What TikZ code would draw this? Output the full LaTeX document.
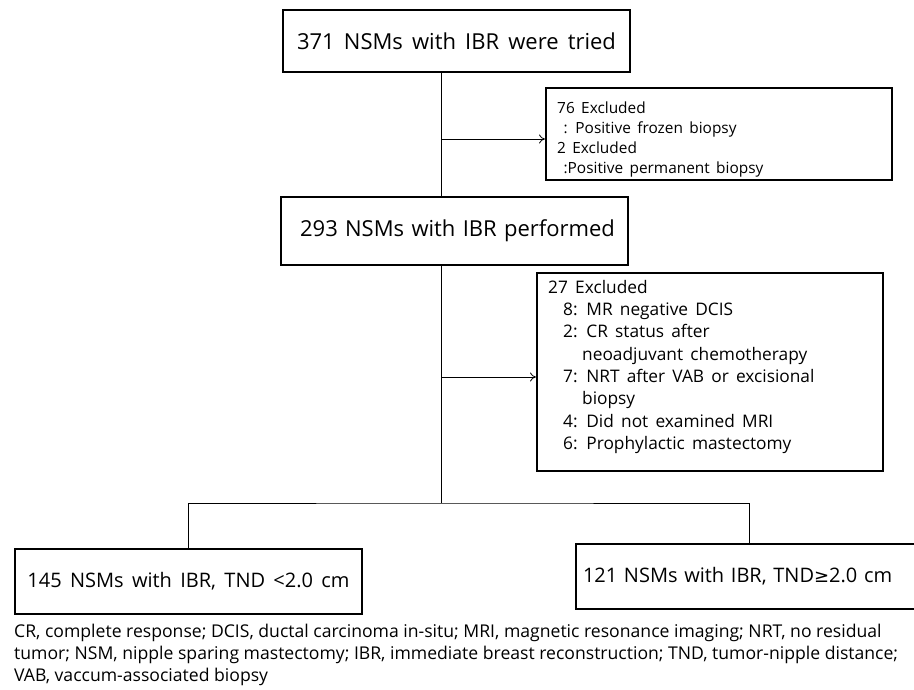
\documentclass[tikz,border=0pt]{standalone}
\usepackage{fontspec}
\setmainfont{Open Sans}
\newfontfamily\boxfont[WordSpace=1.6]{Open Sans}
\newfontfamily\symfont{DejaVu Sans}
\usetikzlibrary{arrows.meta}
\begin{document}
\begin{tikzpicture}[x=1pt,y=-1pt,
  box/.style={draw,line width=2pt,inner sep=0pt},
  conn/.style={line width=0.8pt},
  arr/.style={conn,-{To[length=6pt,width=9pt]}},
  listtext/.style={anchor=north west,align=left,inner sep=0pt},
  exfonta/.style={font=\boxfont\fontsize{15.4}{19.7}\selectfont},
  exfontb/.style={font=\boxfont\fontsize{17.3}{22.3}\selectfont},
  bigfont/.style={font=\boxfont\fontsize{22}{26}\selectfont},
  midfont/.style={font=\boxfont\fontsize{20}{24}\selectfont}]
\useasboundingbox[fill=white] (0,0) rectangle (914,689);
\node[box,bigfont,minimum width=347pt,minimum height=62pt] (b1) at (456.5,41) {371 NSMs with IBR were tried};
\node[box,bigfont,minimum width=347pt,minimum height=68pt,text width=335pt,align=center] (b2) at (454.5,231) {\hspace*{6pt}293 NSMs with IBR performed};
\node[box,anchor=north west,minimum width=346pt,minimum height=92pt] (e1) at (545,87) {};
\node[listtext,exfonta] (e1t) at (557,102)
 {76 Excluded\\\ : Positive frozen biopsy\\2 Excluded\\\ :Positive permanent biopsy};
\node[box,anchor=north west,minimum width=346pt,minimum height=198pt] (e2) at (536,272) {};
\node[listtext,exfontb] (e2t) at (548,280)
 {27 Excluded\\
 \hspace*{15pt}8: MR negative DCIS\\
 \hspace*{15pt}2: CR status after\\
 \hspace*{34pt}neoadjuvant chemotherapy\\
 \hspace*{15pt}7: NRT after VAB or excisional\\
 \hspace*{34pt}biopsy\\
 \hspace*{15pt}4: Did not examined MRI\\
 \hspace*{15pt}6: Prophylactic mastectomy};
\node[box,midfont,anchor=north west,minimum width=347pt,minimum height=65pt] (l) at (14,548) {145 NSMs with IBR, TND <2.0 cm};
\node[box,midfont,anchor=north west,minimum width=346pt,minimum height=65pt,align=left,text width=332pt,inner xsep=7pt] (r) at (575,543) {121 NSMs with IBR, TND{\symfont\fontsize{18}{24}\selectfont ≥}2.0 cm};
\coordinate (t1) at (441,139);
\coordinate (t2) at (441,377);
\coordinate (sp) at (441,503);
\draw[conn] (b1.south -| t1) -- (b2.north -| t1);
\draw[arr] (t1) -- (e1.west |- t1);
\draw[conn] (b2.south -| t2) -- (sp);
\draw[arr] (t2) -- (e2.west |- t2);
\draw[conn] (l.north) |- (sp) -| (r.north);
\node[anchor=north west,font=\fontsize{17.6}{21.8}\selectfont,align=left,inner sep=0pt] (fn) at (14,624)
 {CR, complete response; DCIS, ductal carcinoma in-situ; MRI, magnetic resonance imaging; NRT, no residual\\
 tumor; NSM, nipple sparing mastectomy; IBR, immediate breast reconstruction; TND, tumor-nipple distance;\\
 VAB, vaccum-associated biopsy};
\end{tikzpicture}
\end{document}
